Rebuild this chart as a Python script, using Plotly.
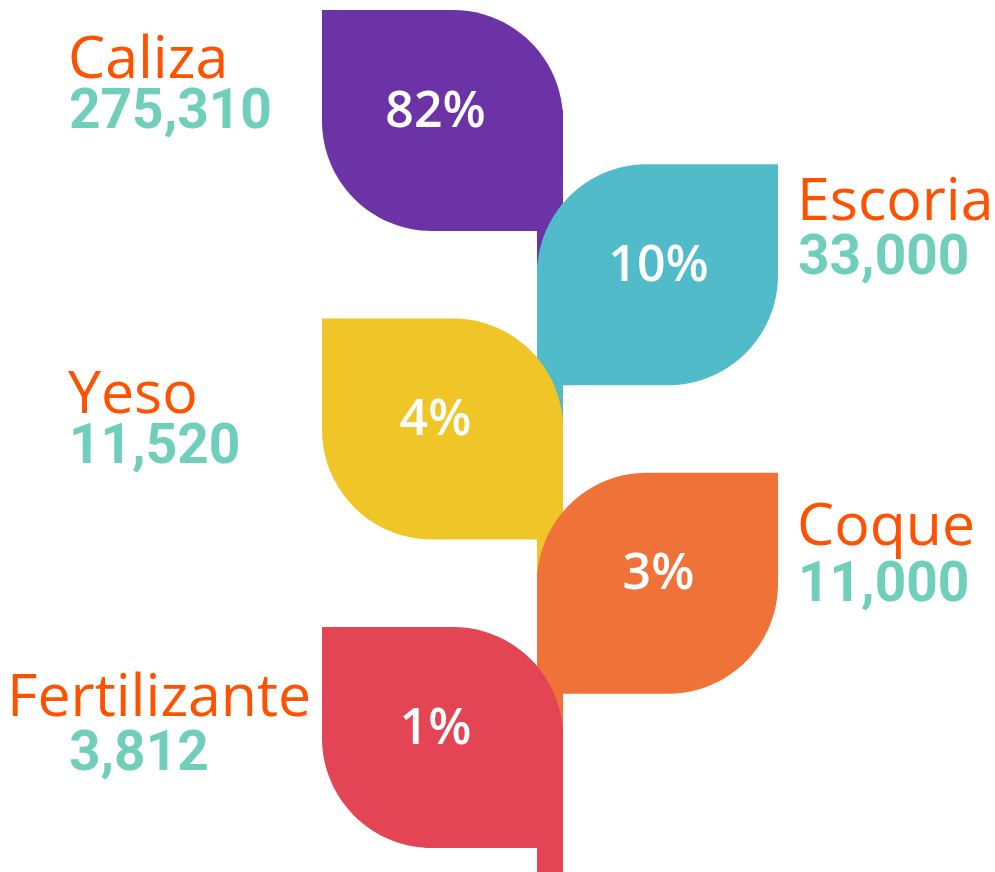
import plotly.graph_objects as go

# ---- data ----
categories = ["Caliza", "Escoria", "Yeso", "Coque", "Fertilizante"]
values = [275310, 33000, 11520, 11000, 3812]
percents = [82, 10, 4, 3, 1]
leaf_colors = ["#6C33A6", "#52BBC9", "#F0C528", "#EF7338", "#E34555"]

# ---- layout constants (pixel-like coordinate system) ----
W, H = 995, 872
LEAF_W, LEAF_H = 241, 221
LEFT_X0, RIGHT_X0 = 322, 537
STEM_X0, STEM_X1 = 537, 563
TOP0, STEP = 10, 154.25
R = 110
K = 0.5523

NAME_COLOR = "#FF5200"
VALUE_COLOR = "#6FCFBA"
name_y = [55, 197, 390, 522, 693]
value_y = [109, 255, 444, 582, 751]


def left_leaf(x0, y0, x1, y1, r):
    return (f"M {x0},{y0} L {x1-r},{y0} "
            f"C {x1-r+K*r},{y0} {x1},{y0+r-K*r} {x1},{y0+r} "
            f"L {x1},{y1} L {x0+r},{y1} "
            f"C {x0+r-K*r},{y1} {x0},{y1-r+K*r} {x0},{y1-r} Z")


def right_leaf(x0, y0, x1, y1, r):
    return (f"M {x0+r},{y0} L {x1},{y0} L {x1},{y1-r} "
            f"C {x1},{y1-r+K*r} {x1-r+K*r},{y1} {x1-r},{y1} "
            f"L {x0},{y1} L {x0},{y0+r} "
            f"C {x0},{y0+r-K*r} {x0+r-K*r},{y0} {x0+r},{y0} Z")


shapes = []
annotations = []
pct_x, pct_y, pct_t = [], [], []
n = len(categories)
for i, (cat, val, pct, col) in enumerate(zip(categories, values, percents, leaf_colors)):
    top = TOP0 + STEP * i
    bottom = top + LEAF_H
    is_left = (i % 2 == 0)
    x0 = LEFT_X0 if is_left else RIGHT_X0
    x1 = x0 + LEAF_W
    # stem segment below this leaf
    stem_end = H if i == n - 1 else top + STEP + 150
    shapes.append(dict(type="rect", xref="x", yref="y", x0=STEM_X0, x1=STEM_X1,
                       y0=top + 100, y1=stem_end, fillcolor=col, line=dict(width=0),
                       layer="below"))
    path = left_leaf(x0, top, x1, bottom, R) if is_left else right_leaf(x0, top, x1, bottom, R)
    shapes.append(dict(type="path", xref="x", yref="y", path=path,
                       fillcolor=col, line=dict(width=0), layer="below"))
    pct_x.append((x0 + x1) / 2 - (7 if is_left else -1))
    pct_y.append(top + 104)
    pct_t.append(f"{pct}%")

    # labels
    if is_left:
        if len(cat) > 8:
            nx, nanchor = 313, "right"
        else:
            nx, nanchor = 66, "left"
        vx = 67
    else:
        nx, nanchor = 795, "left"
        vx = 796
    annotations.append(dict(x=nx, y=name_y[i], xref="x", yref="y", text=cat,
                            showarrow=False, xanchor=nanchor, yanchor="middle",
                            font=dict(family="Open Sans", size=59, color=NAME_COLOR, weight=500)))
    annotations.append(dict(x=vx, y=value_y[i], xref="x", yref="y", text=f"{val:,}",
                            showarrow=False, xanchor="left", yanchor="middle",
                            font=dict(family="Roboto", size=55, color=VALUE_COLOR, weight=700)))

fig = go.Figure()
fig.add_trace(go.Scatter(x=pct_x, y=pct_y, text=pct_t, mode="text",
                         textposition="middle center",
                         textfont=dict(family="Open Sans", size=50, color="white", weight=600),
                         hoverinfo="skip", showlegend=False))

fig.update_layout(
    width=W, height=H,
    margin=dict(l=0, r=0, t=0, b=0),
    paper_bgcolor="white", plot_bgcolor="white",
    xaxis=dict(range=[0, W], visible=False, fixedrange=True),
    yaxis=dict(range=[H, 0], visible=False, fixedrange=True),
    shapes=shapes, annotations=annotations, showlegend=False,
)
fig.write_html("out.html", config={"displayModeBar": False},
               post_script="document.body.style.margin='0';")
